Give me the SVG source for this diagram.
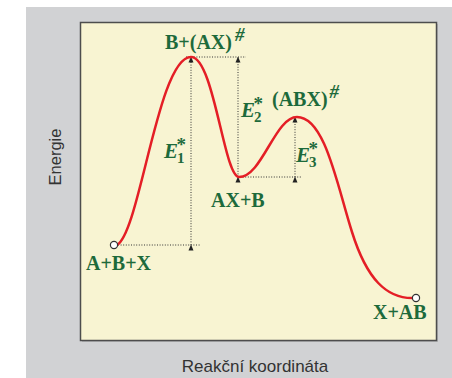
<svg xmlns="http://www.w3.org/2000/svg" width="452" height="378" viewBox="0 0 452 378">
<defs>
<marker id="ah" viewBox="0 0 6 6" refX="5.5" refY="3" markerWidth="6" markerHeight="6" orient="auto" markerUnits="userSpaceOnUse">
<path d="M0,0.5 L6,3 L0,5.5 Z" fill="#222"/>
</marker>
<style>
.lbl{font-family:"Liberation Serif","Times New Roman",serif;font-weight:bold;fill:#1d6a3b;font-size:20px}
.e{font-family:"Liberation Serif","Times New Roman",serif;font-weight:bold;font-style:italic;fill:#1d6a3b;font-size:21px}
.sub{font-size:15px;font-style:normal}
.st{font-size:19px;font-style:normal}
.hs{font-style:italic;font-size:19px}
.ax{font-family:"Liberation Sans",Arial,sans-serif;fill:#333;}
.dot{stroke:#333;stroke-width:1;stroke-dasharray:1 1.6;fill:none}
.arr{stroke:#333;stroke-width:1;stroke-dasharray:1 1.6;fill:none;marker-start:url(#ah);marker-end:url(#ah)}
.pt{fill:#fff;stroke:#333;stroke-width:1.2}
</style>
</defs>
<rect x="0" y="0" width="452" height="378" fill="#fff"/>
<rect x="26" y="7" width="426" height="371" fill="#d1d2d4"/>
<rect x="82" y="24" width="356" height="318" fill="#9a9a9a" opacity="0.5"/>
<rect x="80.5" y="22.5" width="356" height="318" fill="#f8f4d2" stroke="#4d4d4d" stroke-width="1.5"/>
<g id="axes">
<text class="ax" font-size="16.5" transform="translate(61,157) rotate(-90)" text-anchor="middle">Energie</text>
<text class="ax" font-size="17" x="255" y="372" text-anchor="middle">Reakční koordináta</text>
</g>
<g id="connectors">
<line class="dot" x1="118" y1="245" x2="201" y2="245"/>
<line class="dot" x1="186" y1="57" x2="246" y2="57"/>
<line class="dot" x1="240" y1="177" x2="302" y2="177"/>
<line class="arr" x1="191" y1="245" x2="191" y2="57"/>
<line class="arr" x1="238" y1="177" x2="238" y2="57"/>
<line class="arr" x1="295" y1="177" x2="295" y2="117"/>
</g>
<g id="curve">
<path d="M117,245 C140,232 158,57 191,57 C214,57 224,177 239,177 C262,177 275,117 297,117 C325,117 337,185 352,232 C367,280 387,298 412,298" fill="none" stroke="#e41e26" stroke-width="2.5"/>
</g>
<g id="n-start">
<circle class="pt" cx="114" cy="245" r="3.6"/>
<text class="lbl" x="86" y="270">A+B+X</text>
</g>
<g id="n-ts1">
<text class="lbl" x="165" y="49">B+(AX)<tspan class="hs" dx="3" dy="-8">#</tspan></text>
</g>
<g id="n-int">
<text class="lbl" font-size="19" x="211" y="207">AX+B</text>
</g>
<g id="n-ts2">
<text class="lbl" x="272" y="106">(ABX)<tspan class="hs" dx="2" dy="-8">#</tspan></text>
</g>
<g id="n-end">
<circle class="pt" cx="416" cy="298" r="3.6"/>
<text class="lbl" x="373" y="319">X+AB</text>
</g>
<g id="energies">
<text class="e" x="164" y="158">E<tspan class="sub" dx="-1" dy="5">1</tspan><tspan class="st" dx="-8" dy="-12">*</tspan></text>
<text class="e" x="241" y="117">E<tspan class="sub" dx="-1" dy="5">2</tspan><tspan class="st" dx="-8" dy="-12">*</tspan></text>
<text class="e" x="296" y="162">E<tspan class="sub" dx="-1" dy="5">3</tspan><tspan class="st" dx="-8" dy="-12">*</tspan></text>
</g>
</svg>
